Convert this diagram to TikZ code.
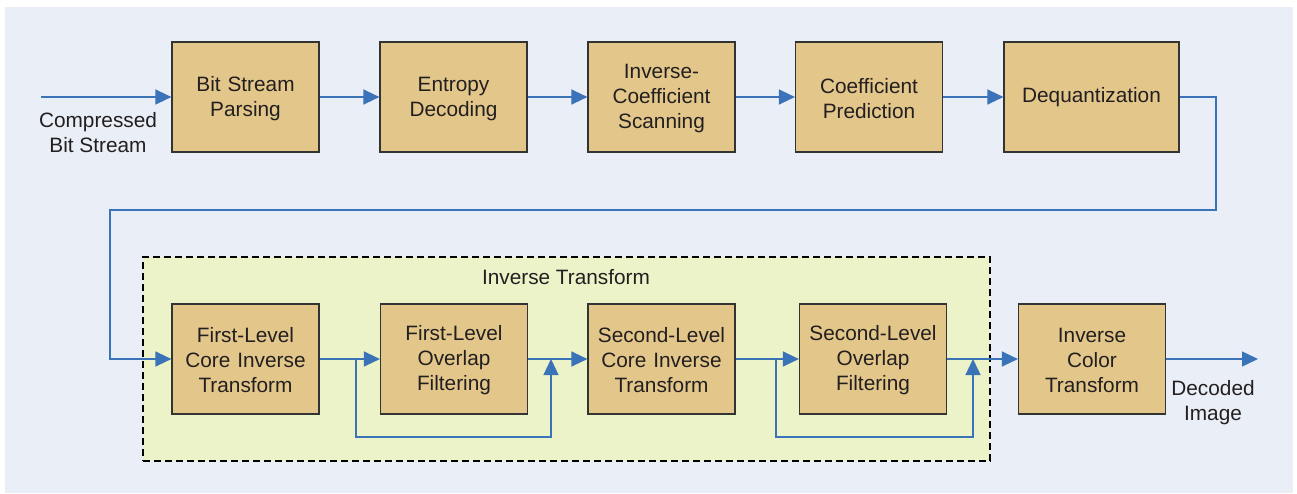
\documentclass[tikz,border=0pt]{standalone}
\usepackage{fontspec}
\setmainfont{Liberation Sans}
\usetikzlibrary{arrows.meta}
\definecolor{bgc}{HTML}{E9EEF7}
\definecolor{boxc}{HTML}{E3C78A}
\definecolor{regc}{HTML}{EDF3C9}
\definecolor{arrc}{HTML}{3B73B9}
\definecolor{txtc}{HTML}{231F20}
\begin{document}
\begin{tikzpicture}[x=1pt,y=-1pt,
  blk/.style={draw=black!80,line width=1.2pt,fill=boxc,minimum height=110pt,
    text width=145pt,align=center,inner sep=0pt,font=\fontsize{20.8}{25}\selectfont,text=txtc,
    execute at begin node=\strut},
  flow/.style={draw=arrc,line width=1.4pt,-{Triangle[length=16pt,width=15pt]}},
  lbl/.style={align=center,font=\fontsize{20.8}{25}\selectfont,text=txtc,inner sep=0pt}]
\useasboundingbox (0,0) rectangle (1297,493);
\fill[bgc] (5,7) rectangle (1293,493);
\node[draw=black,line width=1.2pt,fill=regc,minimum width=847pt,minimum height=204pt,inner sep=0pt,dash pattern=on 7pt off 4pt] (reg) at (566.5,359) {};
\node[lbl] (regl) at (566,277) {Inverse Transform};
% top row
\node[blk,minimum width=147pt] (b1) at (245.5,97) {Bit Stream\\Parsing};
\node[blk,minimum width=147pt] (b2) at (453.5,97) {Entropy\\Decoding};
\node[blk,minimum width=147pt] (b3) at (661.5,97) {Inverse-\\Coefficient\\Scanning};
\node[blk,minimum width=147pt] (b4) at (869,97) {Coefficient\\Prediction};
\node[blk,minimum width=175pt,text width=170pt] (b5) at (1091.5,97) {Dequantization};
% bottom row
\node[blk,minimum width=147pt] (c1) at (245.5,359) {First-Level\\Core Inverse\\Transform};
\node[blk,minimum width=147pt] (c2) at (454,359) {First-Level\\Overlap\\Filtering};
\node[blk,minimum width=147pt] (c3) at (661.5,359) {Second-Level\\Core Inverse\\Transform};
\node[blk,minimum width=147pt] (c4) at (873,359) {Second-Level\\Overlap\\Filtering};
\node[blk,minimum width=147pt] (c5) at (1092,359) {Inverse\\Color\\Transform};
% labels
\node[lbl] (inl) at (98,133) {Compressed\\Bit Stream};
\node[lbl] (outl) at (1213,403) {Decoded\\Image};
\coordinate (in) at (41,97);
\coordinate (out) at (1258,359);
\coordinate (t1) at (1216,97);
\coordinate (t2) at (1216,210);
\coordinate (t3) at (110,210);
\coordinate (t4) at (110,359);
\coordinate (s1) at (356,359);
\coordinate (s2) at (356,437);
\coordinate (s3) at (551,437);
\coordinate (s4) at (551,359);
\coordinate (u1) at (776,359);
\coordinate (u2) at (776,437);
\coordinate (u3) at (973,437);
\coordinate (u4) at (973,359);
% connectors
\draw[flow] (in) -- (b1);
\draw[flow] (b1) -- (b2);
\draw[flow] (b2) -- (b3);
\draw[flow] (b3) -- (b4);
\draw[flow] (b4) -- (b5);
\draw[flow] (b5.east) -- (t1) -- (t2) -- (t3) -- (t4) -- (c1.west);
\draw[flow] (c1) -- (c2);
\draw[flow] (c2) -- (c3);
\draw[flow] (c3) -- (c4);
\draw[flow] (c4) -- (c5);
\draw[flow] (c5) -- (out);
\draw[flow] (s1) -- (s2) -- (s3) -- (s4);
\draw[flow] (u1) -- (u2) -- (u3) -- (u4);
\end{tikzpicture}
\end{document}
